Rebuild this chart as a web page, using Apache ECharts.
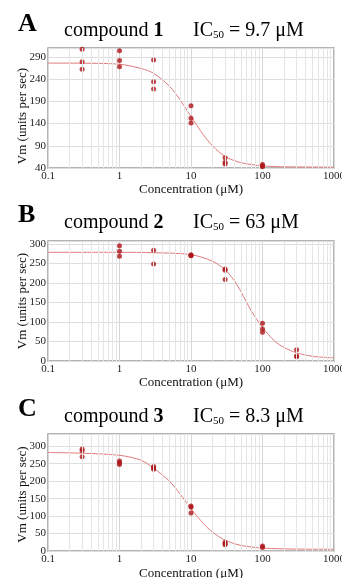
<!DOCTYPE html>
<html><head><meta charset="utf-8">
<script src="https://cdn.jsdelivr.net/npm/echarts@6/dist/echarts.min.js"></script>
<style>html,body{margin:0;padding:0;background:#fff}#c{width:342px;height:578px}</style>
</head><body><div id="c"></div>
<script>
// ---- labels ----
const panelLetters = ['A', 'B', 'C'];
const compoundNames = ['1', '2', '3'];
const ic50Labels = ['9.7', '63', '8.3'];
const xTickLabels = ['0.1', '1', '10', '100', '1000'];
const xAxisTitle = 'Concentration (μM)';
const yAxisTitle = 'Vm (units per sec)';

// ---- y axis ranges ----
const yMins = [40, 0, 0];
const yMaxs = [310, 308, 335];
const yIntervals = [50, 50, 50];

// ---- measured points (concentration µM, Vm) ----
const concA = [0.3, 0.3, 0.3, 1, 1, 1, 3, 3, 3, 10, 10, 10, 30, 30, 30, 100, 100, 100];
const vmA   = [307, 279, 262, 304, 282, 268, 283, 234, 218, 180, 152, 141, 63, 53, 49, 48, 45, 43];

const concB = [1, 1, 1, 3, 3, 10, 10, 10, 30, 30, 30, 100, 100, 100, 300, 300, 300];
const vmB   = [296, 282, 269, 284, 249, 273, 271, 270, 236, 233, 209, 97, 82, 74, 29, 13, 11];

const concC = [0.3, 0.3, 0.3, 1, 1, 1, 3, 3, 3, 10, 10, 10, 30, 30, 30, 100, 100];
const vmC   = [292, 287, 270, 258, 253, 248, 242, 238, 234, 129, 125, 109, 25, 21, 18, 14, 10];

// ---- fitted curves ----
const fitXA = [0.1, 0.3, 1, 2, 3, 5, 7, 10, 15, 20, 30, 50, 100, 200, 1000];
const fitYA = [276, 275.8, 273.5, 264, 253, 224, 194, 156, 114, 90, 66, 52, 44.8, 42.7, 42];

const fitXB = [0.1, 1, 3, 10, 20, 30, 40, 50, 70, 100, 150, 200, 300, 500, 1000];
const fitYB = [279, 279, 278, 273, 256, 234, 207, 178, 128, 86, 50, 35, 21, 12, 8];

const fitXC = [0.1, 0.3, 1, 2, 3, 5, 7, 10, 15, 20, 30, 50, 100, 300, 1000];
const fitYC = [282, 280, 274, 260, 237, 200, 164, 121, 78, 54, 31, 16, 8.5, 5.5, 5];

const panels = [
  {conc: concA, vm: vmA, fx: fitXA, fy: fitYA},
  {conc: concB, vm: vmB, fx: fitXB, fy: fitYB},
  {conc: concC, vm: vmC, fx: fitXC, fy: fitYC}
];

const SERIF = '"Liberation Serif", "Times New Roman", serif';
const gridTops = [48, 241, 434];
const gridHeights = [120, 120, 117];
const xNameGaps = [14, 14, 16];
const yNamePads = [[0, 16, 0, 0], [0, 0, 0, 0], [0, 4, 0, 0]];
const letterY = [24.5, 215.5, 409.5];
const titleY = [29, 220.5, 414.5];

// minor log grid positions (2..9 of each decade)
const minorVals = [];
[0.1, 1, 10, 100].forEach(d => { for (let k = 2; k <= 9; k++) minorVals.push(+(k * d).toPrecision(6)); });

const grids = [], xAxes = [], yAxes = [], series = [], graphics = [];
panels.forEach((p, i) => {
  grids.push({left: 48, right: 8, top: gridTops[i], height: gridHeights[i], show: true,
    containLabel: false, outerBoundsMode: 'none',
    borderColor: '#9c9c9c', borderWidth: 1.5, backgroundColor: 'transparent'});
  xAxes.push({
    type: 'log', logBase: 10, gridIndex: i, min: 0.1, max: 1000,
    name: xAxisTitle, nameLocation: 'middle', nameGap: xNameGaps[i],
    nameTextStyle: {fontFamily: SERIF, fontSize: 13, color: '#111'},
    axisLine: {show: false}, axisTick: {show: false},
    axisLabel: {fontFamily: SERIF, fontSize: 11, color: '#222', margin: 3, hideOverlap: false,
      formatter: v => xTickLabels[Math.round(Math.log10(v)) + 1]},
    splitLine: {show: true, lineStyle: {color: '#d8d8d8', width: 1}}
  });
  yAxes.push({
    type: 'value', gridIndex: i, min: yMins[i], max: yMaxs[i], interval: yIntervals[i],
    name: yAxisTitle, nameLocation: 'middle', nameGap: 19, nameRotate: 90, nameMoveOverlap: false,
    nameTextStyle: {fontFamily: SERIF, fontSize: 13, color: '#111', padding: yNamePads[i]},
    axisLine: {show: false}, axisTick: {show: false},
    axisLabel: {fontFamily: SERIF, fontSize: 11, color: '#222', margin: 2, showMaxLabel: false},
    splitLine: {show: true, lineStyle: {color: '#dedede', width: 1}}
  });
  series.push({
    type: 'line', xAxisIndex: i, yAxisIndex: i, data: [], z: 1, silent: true,
    markLine: {silent: true, symbol: 'none', label: {show: false}, animation: false,
      lineStyle: {type: 'solid', color: '#e6e6e6', width: 1},
      data: minorVals.map(v => ({xAxis: v}))}
  });
  series.push({
    type: 'line', xAxisIndex: i, yAxisIndex: i, z: 3, showSymbol: false, smooth: 0.3,
    lineStyle: {color: '#e07b7b', width: 1},
    data: p.fx.map((x, j) => [x, p.fy[j]])
  });
  series.push({
    type: 'scatter', xAxisIndex: i, yAxisIndex: i, z: 4, symbolSize: 5,
    itemStyle: {color: '#ad1519'},
    data: p.conc.map((x, j) => [x, p.vm[j]])
  });
  graphics.push({type: 'text', x: 18, y: letterY[i],
    style: {text: panelLetters[i], font: 'bold 26px ' + SERIF, fill: '#000', verticalAlign: 'middle'}});
  graphics.push({type: 'text', x: 64, y: titleY[i],
    style: {text: '{n|compound }{b|' + compoundNames[i] + '}', verticalAlign: 'middle', fill: '#000',
      rich: {n: {fontFamily: SERIF, fontSize: 20, lineHeight: 24, verticalAlign: 'bottom'},
             b: {fontFamily: SERIF, fontSize: 20, fontWeight: 'bold', lineHeight: 24, verticalAlign: 'bottom'}}}});
  graphics.push({type: 'text', x: 193, y: titleY[i],
    style: {text: '{n|IC}{s|50}{n| = ' + ic50Labels[i] + ' μM}', verticalAlign: 'middle', fill: '#000',
      rich: {n: {fontFamily: SERIF, fontSize: 20, lineHeight: 24, verticalAlign: 'bottom'},
             s: {fontFamily: SERIF, fontSize: 11, lineHeight: 18, verticalAlign: 'bottom'}}}});
});

const chart = echarts.init(document.getElementById('c'), null, {renderer: 'canvas'});
chart.setOption({
  animation: false,
  backgroundColor: '#fff',
  grid: grids, xAxis: xAxes, yAxis: yAxes, series: series, graphic: graphics
});
</script></body></html>
